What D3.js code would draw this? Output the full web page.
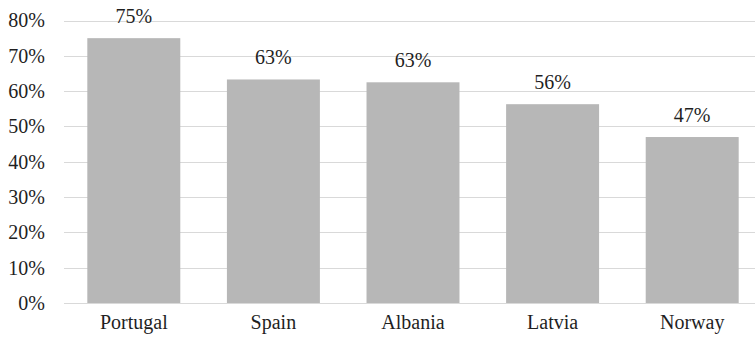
<!DOCTYPE html>
<html>
<head>
<meta charset="utf-8">
<script src="https://cdn.jsdelivr.net/npm/d3@7"></script>
<style>
  body { margin: 0; background: #fff; }
</style>
</head>
<body>
<script>
// chart data
const countries = ["Portugal", "Spain", "Albania", "Latvia", "Norway"];
const shares = [75, 63.3, 62.5, 56.3, 47];
const shareLabels = ["75%", "63%", "63%", "56%", "47%"];
const yTicks = [0, 10, 20, 30, 40, 50, 60, 70, 80];

const width = 755, height = 343;
const margin = { top: 20.5, right: -7, bottom: 40, left: 64 };
const font = "'Liberation Serif', 'Times New Roman', Times, 'DejaVu Serif', serif";

const svg = d3.select("body").append("svg")
    .attr("width", width)
    .attr("height", height)
    .style("font-family", font);

// x scale: bands for countries
const xScale = d3.scaleBand()
    .domain(countries)
    .range([margin.left, width - margin.right])
    .paddingInner(0.334)
    .paddingOuter(0.167);

// y scale: percent
const yScale = d3.scaleLinear()
    .domain([0, 80])
    .range([height - margin.bottom, margin.top]);

// gridlines
svg.append("g")
    .selectAll("line")
    .data(yTicks)
    .enter()
    .append("line")
    .attr("x1", margin.left)
    .attr("x2", width)
    .attr("y1", d => Math.round(yScale(d)) + 0.5)
    .attr("y2", d => Math.round(yScale(d)) + 0.5)
    .attr("stroke", "#d9d9d9")
    .attr("stroke-width", 1);

// y axis labels
const yAxis = svg.append("g")
    .attr("transform", "translate(" + margin.left + ",0)")
    .call(d3.axisLeft(yScale).tickValues(yTicks).tickSize(0).tickPadding(19).tickFormat(d => d + "%"))
    .attr("font-family", null);
yAxis.select(".domain").remove();
yAxis.selectAll("text")
    .style("font-family", font)
    .style("font-size", "20px")
    .attr("fill", "#1f1f1f");

// bars
svg.selectAll(".bar")
    .data(countries)
    .enter()
    .append("rect")
    .attr("class", "bar")
    .attr("x", d => xScale(d))
    .attr("width", xScale.bandwidth())
    .attr("y", (d, i) => yScale(shares[i]))
    .attr("height", (d, i) => yScale(0) - yScale(shares[i]))
    .attr("fill", "#b7b7b7");

// value labels
svg.selectAll(".val")
    .data(countries)
    .enter()
    .append("text")
    .attr("class", "val")
    .attr("x", d => xScale(d) + xScale.bandwidth() / 2)
    .attr("y", (d, i) => yScale(shares[i]) - 15)
    .attr("text-anchor", "middle")
    .attr("fill", "#1f1f1f")
    .style("font-family", font)
    .style("font-size", "20px")
    .text((d, i) => shareLabels[i]);

// x axis labels
const xAxis = svg.append("g")
    .attr("transform", "translate(0," + yScale(0) + ")")
    .call(d3.axisBottom(xScale).tickSize(0).tickPadding(12))
    .attr("font-family", null);
xAxis.select(".domain").remove();
xAxis.selectAll("text")
    .style("font-family", font)
    .style("font-size", "20px")
    .attr("fill", "#1f1f1f");
</script>
</body>
</html>
